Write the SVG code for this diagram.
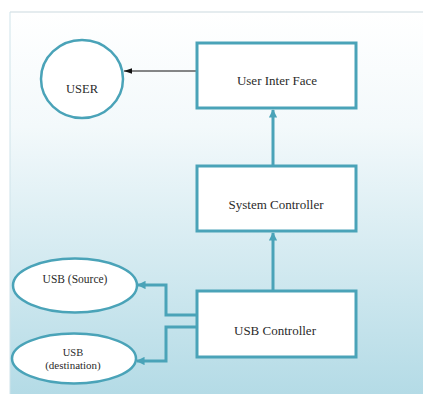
<svg xmlns="http://www.w3.org/2000/svg" width="423" height="394" viewBox="0 0 423 394">
<defs>
<linearGradient id="bg" x1="0" y1="0" x2="0" y2="1">
<stop offset="0" stop-color="#ffffff"/>
<stop offset="0.3" stop-color="#f3f9fb"/>
<stop offset="1" stop-color="#b4dbe6"/>
</linearGradient>
<marker id="ah" viewBox="0 0 10 10" refX="9" refY="5" markerWidth="2.8" markerHeight="2.8" orient="auto" markerUnits="strokeWidth">
<path d="M0,0 L10,5 L0,10 z" fill="#4aa3b8"/>
</marker>
<marker id="ahb" viewBox="0 0 10 10" refX="10" refY="5" markerWidth="8" markerHeight="8" orient="auto" markerUnits="strokeWidth">
<path d="M0,1.5 L10,5 L0,8.5 z" fill="#111"/>
</marker>
</defs>
<style>
.box{fill:#fff;stroke:#4aa3b8;stroke-width:3}
.ell{fill:#fff;stroke:#4aa3b8;stroke-width:2.5}
.t{font-family:'Liberation Serif','DejaVu Serif',serif;fill:#2a2a2a;text-anchor:middle}
.c{fill:none;stroke:#4aa3b8;stroke-width:3}
</style>
<rect x="0" y="0" width="423" height="394" fill="#fff"/>
<rect x="10" y="12" width="413" height="382" fill="url(#bg)"/>
<line x1="10" y1="12" x2="423" y2="12" stroke="#dde6ea" stroke-width="1.5"/>
<line x1="10" y1="12" x2="10" y2="394" stroke="#cfe3ea" stroke-width="1"/>
<g id="connectors">
<line x1="197" y1="71" x2="124" y2="71" stroke="#111" stroke-width="1" marker-end="url(#ahb)"/>
<line x1="273" y1="165" x2="273" y2="110" class="c" marker-end="url(#ah)"/>
<line x1="273" y1="290" x2="273" y2="233" class="c" marker-end="url(#ah)"/>
<polyline points="197,315 166,315 166,285 138,285" class="c" marker-end="url(#ah)"/>
<polyline points="197,327 166,327 166,361 137,361" class="c" marker-end="url(#ah)"/>
</g>
<g id="user">
<ellipse cx="82" cy="79" rx="41" ry="39" class="ell"/>
<text x="82" y="93" class="t" font-family="Liberation Serif, serif" font-size="12.5">USER</text>
</g>
<g id="ui">
<rect x="197" y="43" width="159" height="65" class="box"/>
<text x="277" y="85" class="t" font-family="Liberation Serif, serif" font-size="13">User Inter Face</text>
</g>
<g id="sys">
<rect x="197" y="166" width="159" height="65" class="box"/>
<text x="276" y="209" class="t" font-family="Liberation Serif, serif" font-size="13">System Controller</text>
</g>
<g id="usbc">
<rect x="197" y="291" width="159" height="66" class="box"/>
<text x="275" y="335" class="t" font-family="Liberation Serif, serif" font-size="13">USB Controller</text>
</g>
<g id="src">
<ellipse cx="75" cy="285.5" rx="62" ry="27" class="ell"/>
<text x="75" y="283" class="t" font-family="Liberation Serif, serif" font-size="11.5">USB (Source)</text>
</g>
<g id="dst">
<ellipse cx="74" cy="358.5" rx="62" ry="25" class="ell"/>
<text x="73" y="356" class="t" font-family="Liberation Serif, serif" font-size="10.5">USB</text>
<text x="73" y="369" class="t" font-family="Liberation Serif, serif" font-size="11">(destination)</text>
</g>
</svg>
